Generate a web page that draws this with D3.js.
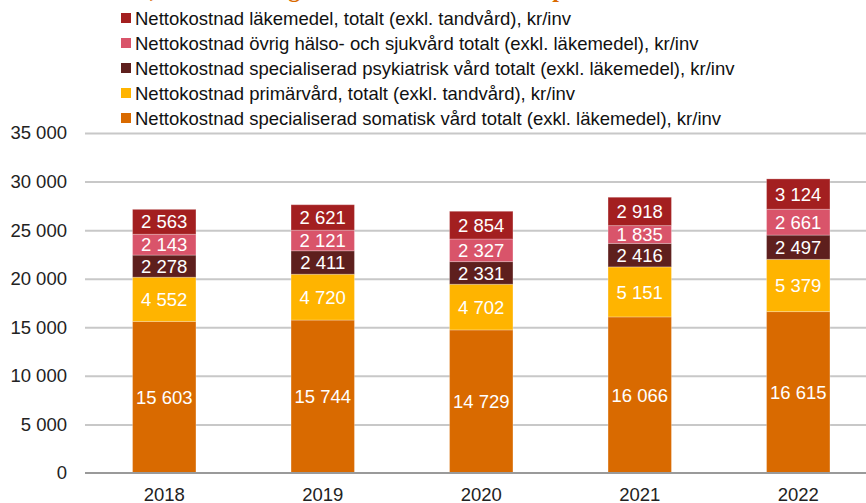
<html>
<head>
  <script src="https://d3js.org/d3.v7.min.js"></script>
  <style>
    body { margin: 0; background: #fff; }
    text { font-family: Arial, "Liberation Sans", sans-serif; }
    .gridlines line { stroke: #c8c8c8; stroke-width: 2; }
    .gridlines .domain { stroke: none; }
  </style>
</head>
<body>
<svg id="chart" width="866" height="503"></svg>
<script>
  const years = ["2018", "2019", "2020", "2021", "2022"];
  const seriesNames = [
    "Nettokostnad specialiserad somatisk vård totalt (exkl. läkemedel), kr/inv",
    "Nettokostnad primärvård, totalt (exkl. tandvård), kr/inv",
    "Nettokostnad specialiserad psykiatrisk vård totalt (exkl. läkemedel), kr/inv",
    "Nettokostnad övrig hälso- och sjukvård totalt (exkl. läkemedel), kr/inv",
    "Nettokostnad läkemedel, totalt (exkl. tandvård), kr/inv"
  ];
  const somatisk   = [15603, 15744, 14729, 16066, 16615];
  const primarvard = [4552, 4720, 4702, 5151, 5379];
  const psykiatri  = [2278, 2411, 2331, 2416, 2497];
  const ovrig      = [2143, 2121, 2327, 1835, 2661];
  const lakemedel  = [2563, 2621, 2854, 2918, 3124];
  const colors = ["#d96a00", "#ffb400", "#5e1f1d", "#d9546a", "#a31f20"];
  const yTicks = [0, 5000, 10000, 15000, 20000, 25000, 30000, 35000];

  const svg = d3.select("svg#chart");
  const margin = {left: 85, top: 133, bottom: 30};
  const zeroY = 473;

  const keys = ["somatisk", "primarvard", "psykiatri", "ovrig", "lakemedel"];
  const table = years.map((y, i) => ({
    year: y, somatisk: somatisk[i], primarvard: primarvard[i],
    psykiatri: psykiatri[i], ovrig: ovrig[i], lakemedel: lakemedel[i]
  }));
  const stacked = d3.stack().keys(keys)(table);

  const xScale = d3.scaleBand().domain(years).range([margin.left, margin.left + 5 * 158.5]).paddingInner(0.6).paddingOuter(0.3);
  const yScale = d3.scaleLinear().domain([0, 35000]).range([zeroY, margin.top]);

  const fmt = v => d3.format(",")(v).replace(/,/g, " ");

  // title, cut off at the top edge
  const title = svg.append("text")
    .attr("y", -3)
    .style("font-family", "'Liberation Serif', 'DejaVu Serif', serif")
    .style("font-weight", "bold")
    .style("font-size", "24px")
    .attr("fill", "#d96a00")
    .text("Bild 1, Kostnad i regionen totalt och fördelat på område och invånare");
  const commaPos = title.node().getSubStringLength(0, 6);
  title.attr("x", 150 - commaPos);

  // gridlines
  svg.append("g").attr("class", "gridlines")
    .attr("transform", "translate(" + margin.left + ",0)")
    .call(d3.axisLeft(yScale).tickValues(yTicks.slice(1)).tickFormat("").tickSize(-(866 - margin.left)));

  // y labels
  svg.append("g").selectAll("text").data(yTicks).join("text")
    .attr("x", 67).attr("y", d => yScale(d)).attr("dy", "0.35em")
    .attr("text-anchor", "end").attr("font-size", "18.5px").attr("fill", "#222")
    .text(d => fmt(d));

  // bars
  const layers = svg.append("g").selectAll("g").data(stacked).join("g")
    .attr("fill", (d, i) => colors[i]);
  layers.selectAll("rect").data(d => d).join("rect")
    .attr("x", d => xScale(d.data.year))
    .attr("width", xScale.bandwidth())
    .attr("y", d => yScale(d[1]))
    .attr("height", d => yScale(d[0]) - yScale(d[1]))
    .attr("stroke", "rgba(255,255,255,0.25)").attr("stroke-width", 1);

  layers.selectAll("text").data(d => d.map(v => Object.assign({}, v, {key: d.key}))).join("text")
    .attr("x", d => xScale(d.data.year) + xScale.bandwidth() / 2)
    .attr("y", d => (yScale(d[0]) + yScale(d[1])) / 2)
    .attr("dy", "0.36em").attr("text-anchor", "middle")
    .attr("font-size", "18.5px").attr("fill", "#fff")
    .text(d => fmt(d.data[d.key]));

  // zero axis line
  svg.append("line").attr("x1", margin.left).attr("x2", 866)
    .attr("y1", zeroY).attr("y2", zeroY)
    .attr("stroke", "#9a9a9a").attr("stroke-width", 2);

  // x labels
  svg.append("g").selectAll("text").data(years).join("text")
    .attr("x", d => xScale(d) + xScale.bandwidth() / 2).attr("y", 501)
    .attr("text-anchor", "middle").attr("font-size", "18.5px").attr("fill", "#222")
    .text(d => d);

  // legend, top to bottom in reverse stack order
  const legendOrder = [4, 3, 2, 1, 0];
  const legend = svg.append("g").selectAll("g").data(legendOrder).join("g")
    .attr("transform", (d, i) => "translate(121," + (18 + i * 25) + ")");
  legend.append("rect").attr("x", 0).attr("y", -5).attr("width", 10).attr("height", 10)
    .attr("fill", d => colors[d]);
  legend.append("text").attr("x", 14).attr("dy", "0.36em")
    .attr("font-size", "18.5px").attr("fill", "#111")
    .text(d => seriesNames[d]);
</script>
</body>
</html>
